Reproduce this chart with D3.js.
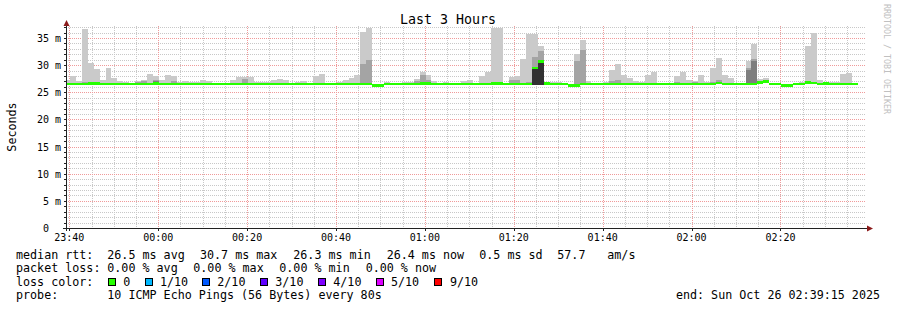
<!DOCTYPE html>
<html>
<head>
<meta charset="utf-8">
<script src="https://cdn.jsdelivr.net/npm/d3@7"></script>
<style>
html, body { margin: 0; padding: 0; background: #fff; }
svg { display: block; font-family: "DejaVu Sans Mono", monospace; }
text { white-space: pre; }
</style>
</head>
<body>
<svg id="chart" width="897" height="310"></svg>
<script>
// SmokePing style latency graph - Last 3 Hours

// Time window and RRD step
const startTime = new Date("2025-10-25T23:39:15Z");
const endTime = new Date("2025-10-26T02:39:15Z");
const firstBinStart = new Date("2025-10-25T23:38:49Z");
const stepSeconds = 80;

// Median rtt per 80s bin (ms)
const medianRtt = [
    26.5, 26.5, 26.5, 26.5, 26.6, 26.6, 26.5, 26.5, 26.5, 26.5,
    26.5, 26.5, 26.5, 26.5, 26.5, 26.6, 26.5, 26.5, 26.5, 26.5,
    26.5, 26.5, 26.5, 26.5, 26.5, 26.5, 26.5, 26.5, 26.5, 26.5,
    26.5, 26.5, 26.5, 26.5, 26.5, 26.5, 26.5, 26.5, 26.5, 26.5,
    26.5, 26.5, 26.5, 26.5, 26.5, 26.5, 26.5, 26.5, 26.5, 26.5,
    26.5, 26.5, 26.2, 26.2, 26.5, 26.5, 26.5, 26.5, 26.5, 26.5,
    26.6, 26.6, 26.5, 26.5, 26.5, 26.5, 26.5, 26.5, 26.5, 26.5,
    26.5, 26.5, 26.6, 26.6, 26.5, 26.5, 26.5, 26.5, 26.5, 29.5,
    30.7, 26.6, 26.5, 26.5, 26.5, 26.2, 26.2, 26.5, 26.5, 26.5,
    26.5, 26.5, 26.5, 26.5, 26.5, 26.5, 26.5, 26.5, 26.5, 26.5,
    26.5, 26.5, 26.5, 26.5, 26.5, 26.5, 26.5, 26.5, 26.5, 26.5,
    26.7, 26.5, 26.5, 26.5, 26.5, 26.5, 26.5, 26.8, 27.0, 26.5,
    26.5, 26.2, 26.2, 26.5, 26.5, 26.8, 26.7, 26.5, 26.6, 26.5,
    26.5, 26.5, 26.5, 26.5
];

// Highest ping per bin (lightest smoke), null = nothing above median
const smokeMax = [
    27.3, 28.0, 27.0, 36.7, 30.4, 29.3, 27.3, 29.5, 27.6, 27.1,
    26.9, null, 27.1, 27.3, 28.4, 28.0, 27.3, 28.2, 28.0, 26.8,
    27.1, 26.9, 26.8, 27.3, 27.1, null, null, null, 27.3, 27.8,
    27.8, 27.8, 26.8, 26.9, 26.9, 27.3, 27.4, 27.3, null, 26.9,
    27.1, null, 28.0, 28.4, null, null, 26.9, 27.3, 27.6, 28.2,
    36.1, 36.8, null, null, 26.8, null, null, 26.9, 26.9, 27.4,
    28.7, 28.2, 27.1, null, 26.9, null, null, 27.1, 27.3, null,
    28.0, 28.7, 36.8, 36.8, null, 27.8, 28.0, 31.1, 35.7, 35.7,
    33.5, 26.8, 26.8, 26.8, null, null, 32.0, 34.6, 27.1, null,
    null, 26.9, 29.1, 30.2, 28.2, 27.6, 27.1, 26.9, 28.2, 28.7,
    null, null, null, 28.0, 28.7, 27.3, 27.1, 28.2, 26.9, 29.5,
    31.3, 28.2, 27.6, null, null, 30.8, 33.9, 27.4, 27.6, null,
    null, null, null, null, 26.9, 33.5, 35.9, 27.3, null, 26.9,
    26.8, 28.4, 28.6, null
];

// Inner smoke layers: [bin index, top value in ms]
const smoke9 = [
    [3, 26.9], [12, 26.9], [13, 27.0], [15, 27.3], [18, 27.0], [30, 27.5],
    [50, 30.2], [51, 30.9], [59, 27.1], [60, 28.2], [61, 27.3], [75, 27.3],
    [76, 27.3], [78, 26.9], [79, 31.4], [80, 32.6], [86, 30.8], [87, 32.8],
    [92, 27.1], [93, 27.3], [103, 26.9], [106, 26.9], [109, 26.9], [110, 27.3],
    [115, 29.4], [116, 31.1], [117, 27.0]
];
const smoke8 = [[15, 27.0], [115, 29.1], [116, 30.7]];
const smoke6 = [[79, 29.6], [80, 30.8]];
// lowest ping where it sits visibly below the median
const smokeFloor = [[79, 26.3], [80, 26.3]];

// Axis ticks
const yMajorTicks = [0, 5, 10, 15, 20, 25, 30, 35];
const yTickLabels = ["0  ", "5 m", "10 m", "15 m", "20 m", "25 m", "30 m", "35 m"];

// Legend
const lossColors = ["#26ff00", "#00b8ff", "#0059ff", "#5e00ff", "#7e00ff", "#dd00ff", "#ff0000"];
const lossLabels = ["0", "1/10", "2/10", "3/10", "4/10", "5/10", "9/10"];
const rttStats = ["26.5 ms avg", "30.7 ms max", "26.3 ms min", "26.4 ms now", "0.5 ms sd", "57.7", "am/s"];
const lossStats = ["0.00 % avg", "0.00 % max", "0.00 % min", "0.00 % now"];

// Layout
const plot = { left: 66, right: 866, top: 26, bottom: 228 };

const svg = d3.select('#chart');

const x = d3.scaleUtc().domain([startTime, endTime]).range([plot.left, plot.right]);
const y = d3.scaleLinear().domain([0, 37.2]).range([plot.bottom, plot.top]);

const binStart = i => new Date(firstBinStart.getTime() + i * stepSeconds * 1000);

// Clip for the canvas
svg.append('defs').append('clipPath').attr('id', 'plotClip')
    .append('rect')
    .attr('x', plot.left + 0.5).attr('y', plot.top - 2)
    .attr('width', plot.right - plot.left).attr('height', plot.bottom - plot.top + 2);

// Grid
const grid = svg.append('g').attr('class', 'grid').attr('shape-rendering', 'crispEdges');

const yMinor = d3.range(1, 38).filter(v => v % 5 !== 0);
grid.selectAll('line.hmin').data(yMinor).enter().append('line')
    .attr('x1', plot.left).attr('x2', plot.right)
    .attr('y1', d => Math.round(y(d)) + 0.5).attr('y2', d => Math.round(y(d)) + 0.5)
    .attr('stroke', '#c8c8c8').attr('stroke-dasharray', '1,1');

const xMinor = x.ticks(d3.utcMinute.every(5)).filter(d => d.getUTCMinutes() % 20 !== 0);
grid.selectAll('line.vmin').data(xMinor).enter().append('line')
    .attr('x1', d => Math.round(x(d)) + 0.5).attr('x2', d => Math.round(x(d)) + 0.5)
    .attr('y1', plot.top).attr('y2', plot.bottom)
    .attr('stroke', '#c8c8c8').attr('stroke-dasharray', '1,1');

grid.selectAll('line.hmaj').data(yMajorTicks.filter(d => d > 0)).enter().append('line')
    .attr('x1', plot.left).attr('x2', plot.right)
    .attr('y1', d => Math.round(y(d)) + 0.5).attr('y2', d => Math.round(y(d)) + 0.5)
    .attr('stroke', '#f09a9a').attr('stroke-dasharray', '1,1');

const xMajor = x.ticks(d3.utcMinute.every(20));
grid.selectAll('line.vmaj').data(xMajor).enter().append('line')
    .attr('x1', d => Math.round(x(d)) + 0.5).attr('x2', d => Math.round(x(d)) + 0.5)
    .attr('y1', plot.top).attr('y2', plot.bottom)
    .attr('stroke', '#f09a9a').attr('stroke-dasharray', '1,1');

// Smoke
const marks = svg.append('g').attr('clip-path', 'url(#plotClip)').attr('shape-rendering', 'crispEdges');

const floorOf = new Map(smokeFloor);
const bins = medianRtt.map((m, i) => ({
    i,
    x0: x(binStart(i)),
    x1: x(binStart(i + 1)),
    median: m,
    floor: floorOf.has(i) ? floorOf.get(i) : m
}));

function drawSmoke(pairs, color) {
    marks.append('g').selectAll('rect').data(pairs).enter().append('rect')
        .attr('x', d => bins[d[0]].x0)
        .attr('width', d => bins[d[0]].x1 - bins[d[0]].x0)
        .attr('y', d => y(d[1]))
        .attr('height', d => Math.max(0, y(bins[d[0]].floor) - y(d[1])))
        .attr('fill', color);
}

drawSmoke(smokeMax.map((v, i) => [i, v]).filter(d => d[1] !== null), '#cacaca');
drawSmoke(smoke9, '#a4a4a4');
drawSmoke(smoke8, '#7e7e7e');
drawSmoke(smoke6, '#323232');

// Median line, coloured by loss (all 0/10)
marks.append('g').selectAll('rect').data(bins).enter().append('rect')
    .attr('x', d => d.x0)
    .attr('width', d => d.x1 - d.x0)
    .attr('y', d => y(d.median) - 1.25)
    .attr('height', 2.5)
    .attr('fill', lossColors[0]);

// Axes
const axis = svg.append('g').attr('shape-rendering', 'crispEdges');
axis.append('line')
    .attr('x1', plot.left - 3).attr('x2', plot.right + 2)
    .attr('y1', plot.bottom + 0.5).attr('y2', plot.bottom + 0.5)
    .attr('stroke', '#222');
axis.append('line')
    .attr('x1', plot.left + 0.5).attr('x2', plot.left + 0.5)
    .attr('y1', plot.bottom + 3).attr('y2', plot.top - 1)
    .attr('stroke', '#222');

// small ticks on the axes
axis.selectAll('line.yt').data(d3.range(0, 38)).enter().append('line')
    .attr('x1', plot.left - 2).attr('x2', plot.left)
    .attr('y1', d => Math.round(y(d)) + 0.5).attr('y2', d => Math.round(y(d)) + 0.5)
    .attr('stroke', '#222');
axis.selectAll('line.xt').data(xMajor).enter().append('line')
    .attr('x1', d => Math.round(x(d)) + 0.5).attr('x2', d => Math.round(x(d)) + 0.5)
    .attr('y1', plot.bottom + 1).attr('y2', plot.bottom + 3)
    .attr('stroke', '#222');

// arrows
svg.append('path')
    .attr('d', `M${plot.right + 1},${plot.bottom - 2.5} L${plot.right + 7},${plot.bottom + 0.5} L${plot.right + 1},${plot.bottom + 3.5} Z`)
    .attr('fill', '#8b1a1a');
svg.append('path')
    .attr('d', `M${plot.left - 2.5},${plot.top} L${plot.left + 0.5},${plot.top - 6} L${plot.left + 3.5},${plot.top} Z`)
    .attr('fill', '#8b1a1a');

// Tick labels
svg.append('g').selectAll('text').data(yMajorTicks).enter().append('text')
    .attr('x', 61)
    .attr('y', d => Math.round(y(d)) + 4)
    .attr('text-anchor', 'end')
    .attr('font-size', '10px')
    .attr('fill', '#000')
    .text((d, i) => yTickLabels[i]);

const timeFmt = d3.utcFormat('%H:%M');
svg.append('g').selectAll('text').data(xMajor).enter().append('text')
    .attr('x', d => x(d))
    .attr('y', 241)
    .attr('text-anchor', 'middle')
    .attr('font-size', '10px')
    .attr('fill', '#000')
    .text(d => timeFmt(d));

// Title and side labels
svg.append('text')
    .attr('x', 448).attr('y', 24)
    .attr('text-anchor', 'middle')
    .attr('font-size', '13.3px')
    .attr('fill', '#000')
    .text('Last 3 Hours');

svg.append('text')
    .attr('transform', 'translate(15.5,127) rotate(-90)')
    .attr('text-anchor', 'middle')
    .attr('font-size', '11.7px')
    .attr('fill', '#000')
    .text('Seconds');

svg.append('text')
    .attr('transform', 'translate(884,4) rotate(90)')
    .attr('font-size', '8.3px')
    .attr('fill', '#c0c0c0')
    .text('RRDTOOL / TOBI OETIKER');

// Legend
const legend = svg.append('g')
    .attr('font-size', '11.7px')
    .attr('fill', '#000');

const rowY = [258.5, 272, 285.5, 299];

function legendText(xPos, row, str) {
    legend.append('text').attr('x', xPos).attr('y', rowY[row]).text(str);
}

legendText(16, 0, 'median rtt:');
[107.3, 200, 293.3, 386.7, 479.3, 557.3, 607.3].forEach((px, i) => legendText(px, 0, rttStats[i]));

legendText(16, 1, 'packet loss:');
[107.3, 193.3, 279.3, 365.7].forEach((px, i) => legendText(px, 1, lossStats[i]));

legendText(16, 2, 'loss color:');
const boxX = [108.5, 145.5, 202.5, 260.5, 318.5, 376.5, 434.5];
const labelX = [123.3, 160, 217.3, 275.3, 333.3, 391, 450];
lossColors.forEach((c, i) => {
    legend.append('rect')
        .attr('x', boxX[i]).attr('y', rowY[2] - 7.5)
        .attr('width', 7).attr('height', 7)
        .attr('fill', c)
        .attr('stroke', '#000').attr('stroke-width', 1)
        .attr('shape-rendering', 'crispEdges');
    legendText(labelX[i], 2, lossLabels[i]);
});

legendText(16, 3, 'probe:');
legendText(107.3, 3, '10 ICMP Echo Pings (56 Bytes) every 80s');
legend.append('text')
    .attr('x', 880).attr('y', rowY[3])
    .attr('text-anchor', 'end')
    .text('end: Sun Oct 26 02:39:15 2025');
</script>
</body>
</html>
